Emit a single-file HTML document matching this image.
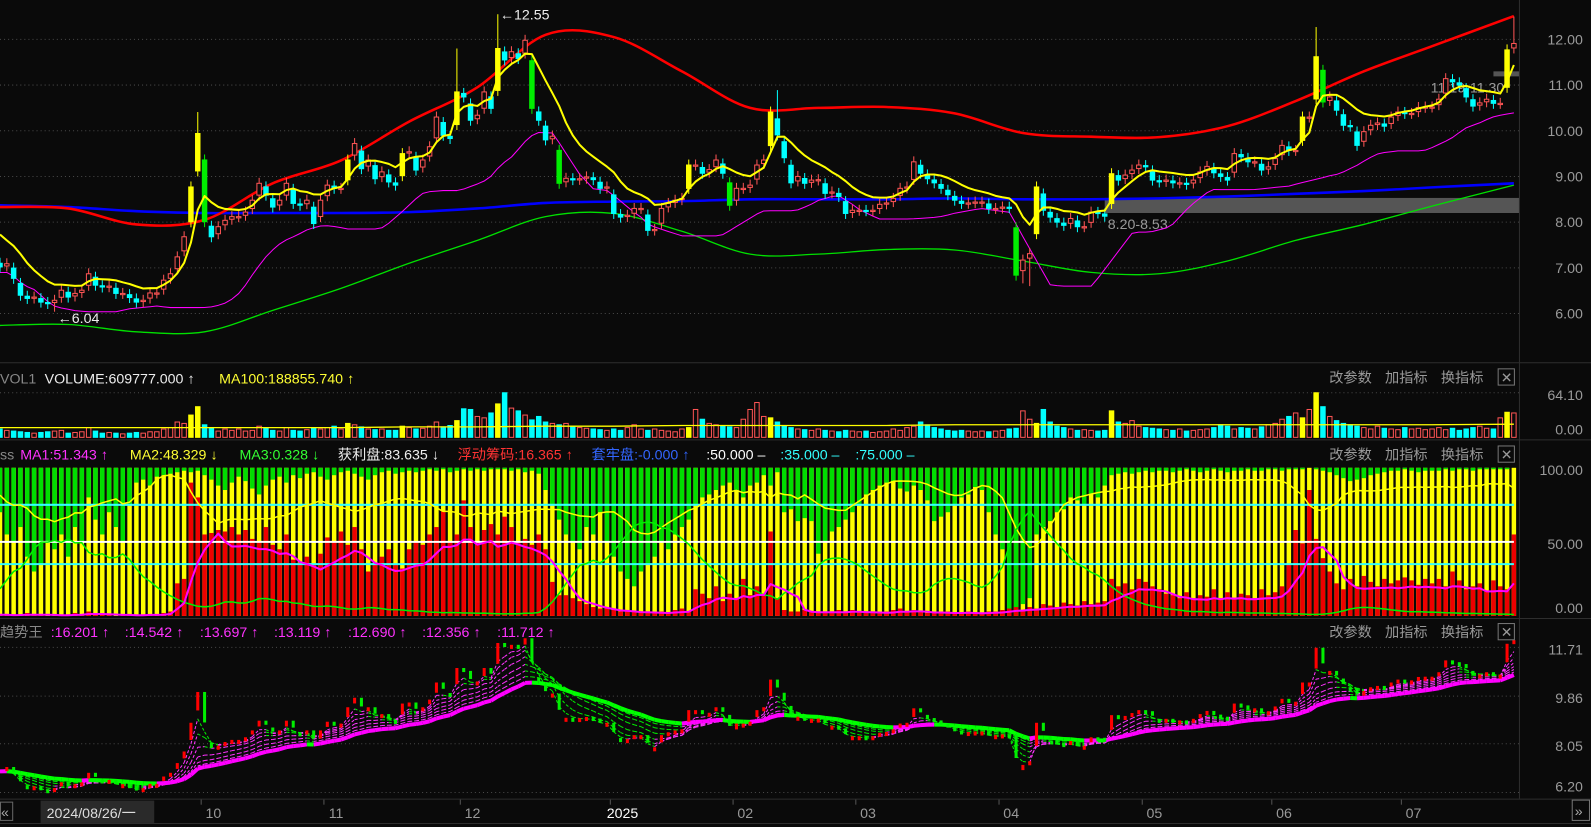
<!DOCTYPE html>
<html><head><meta charset="utf-8"><style>
html,body{margin:0;padding:0;background:#0a0a0a;overflow:hidden}
svg{display:block}
text{font-family:"Liberation Sans","Noto Sans CJK SC",sans-serif;font-size:14px}
</style></head><body>
<svg id="chart" width="1591" height="827" viewBox="0 0 1568 815" preserveAspectRatio="none" xmlns="http://www.w3.org/2000/svg">
<rect x="0" y="0" width="1568" height="815" fill="#0a0a0a"/>
<g stroke="#2e2e2e" stroke-width="1">
<line x1="0" y1="357.5" x2="1568" y2="357.5"/><line x1="0" y1="433.5" x2="1568" y2="433.5"/><line x1="0" y1="609.5" x2="1568" y2="609.5"/><line x1="0" y1="787.5" x2="1568" y2="787.5"/><line x1="0" y1="811.5" x2="1568" y2="811.5"/><line x1="1497.5" y1="0" x2="1497.5" y2="787"/>
</g>
<g id="layer"></g>
<g>
<text x="0" y="378" fill="#888">VOL1</text>
<text x="44" y="378" fill="#eee">VOLUME:609777.000 ↑</text>
<text x="216" y="378" fill="#ffff33">MA100:188855.740 ↑</text>
</g>
<g>
<text x="0" y="453" fill="#888">ss</text>
<text x="20" y="453" fill="#ff33ff">MA1:51.343 ↑</text>
<text x="128" y="453" fill="#ffff33">MA2:48.329 ↓</text>
<text x="236" y="453" fill="#33ff33">MA3:0.328 ↓</text>
<text x="333" y="453" fill="#eee">获利盘:83.635 ↓</text>
<text x="451" y="453" fill="#ff3333">浮动筹码:16.365 ↑</text>
<text x="583" y="453" fill="#3366ff">套牢盘:-0.000 ↑</text>
<text x="696" y="453" fill="#fff">:50.000 –</text>
<text x="769" y="453" fill="#33ffff">:35.000 –</text>
<text x="843" y="453" fill="#33ffff">:75.000 –</text>
</g>
<g fill="#ff33ff">
<text x="0" y="628" fill="#888">趋势王</text>
<text x="50" y="628">:16.201 ↑</text>
<text x="123" y="628">:14.542 ↑</text>
<text x="197" y="628">:13.697 ↑</text>
<text x="270" y="628">:13.119 ↑</text>
<text x="343" y="628">:12.690 ↑</text>
<text x="416" y="628">:12.356 ↑</text>
<text x="490" y="628">:11.712 ↑</text>
</g>
<g fill="#999">
<text x="1310" y="377">改参数</text>
<text x="1365" y="377">加指标</text>
<text x="1420" y="377">换指标</text>
<rect x="1476.5" y="363.5" width="16" height="16" fill="none" stroke="#777"/><text x="1479" y="377">✕</text>
</g>
<g fill="#999">
<text x="1310" y="453">改参数</text>
<text x="1365" y="453">加指标</text>
<text x="1420" y="453">换指标</text>
<rect x="1476.5" y="439.5" width="16" height="16" fill="none" stroke="#777"/><text x="1479" y="453">✕</text>
</g>
<g fill="#999">
<text x="1310" y="628">改参数</text>
<text x="1365" y="628">加指标</text>
<text x="1420" y="628">换指标</text>
<rect x="1476.5" y="614.5" width="16" height="16" fill="none" stroke="#777"/><text x="1479" y="628">✕</text>
</g>
<g>
<rect x="0.5" y="790.5" width="12" height="18" fill="none" stroke="#666"/><text x="1" y="805" fill="#aaa">«</text>
<rect x="40" y="789" width="112" height="22" fill="#2a2a2a"/>
<text x="46" y="806" fill="#ddd">2024/08/26/一</text>
<rect x="1549.5" y="788.5" width="17" height="20" fill="none" stroke="#777"/><text x="1552" y="804" fill="#aaa">»</text>
</g>
</svg>
<script>
const closes=[7.02,7.09,6.77,6.40,6.33,6.36,6.25,6.22,6.29,6.51,
6.36,6.44,6.51,6.87,6.62,6.58,6.60,6.44,6.44,6.35,
6.25,6.29,6.45,6.45,6.73,6.87,7.24,7.68,8.77,9.94,
8.01,7.68,7.90,8.04,8.12,8.12,8.22,8.48,8.85,8.59,
8.33,8.48,8.85,8.41,8.37,8.48,7.97,8.48,8.81,8.74,
8.74,9.36,9.72,9.17,9.36,8.95,9.10,8.88,8.81,9.50,
9.54,9.14,9.36,9.65,10.30,9.90,9.83,10.85,10.74,10.23,
10.34,10.85,10.49,11.80,11.55,11.73,11.58,11.98,10.49,
10.23,9.80,9.88,8.85,8.96,8.93,8.95,8.99,8.93,8.74,
8.77,8.19,8.11,8.15,8.30,8.30,7.82,7.84,8.30,8.41,
8.48,8.52,9.25,9.25,9.07,9.15,9.36,9.07,8.37,8.74,
8.74,8.81,9.25,9.36,10.41,9.91,9.41,8.86,9.00,8.85,
8.92,8.93,8.63,8.66,8.56,8.19,8.26,8.26,8.25,8.26,
8.39,8.42,8.52,8.74,8.77,9.32,9.07,8.95,8.86,8.74,
8.60,8.48,8.41,8.42,8.44,8.44,8.30,8.30,8.33,8.32,
6.84,7.17,7.31,8.77,8.26,8.11,8.00,
7.93,8.08,7.90,7.90,8.22,8.20,8.13,9.06,8.92,9.03,
9.14,9.25,9.21,8.92,8.88,8.92,8.86,8.86,8.83,8.92,
9.10,9.22,9.08,9.00,8.92,9.50,9.43,9.32,9.32,9.14,
9.21,9.39,9.68,9.57,9.57,10.30,10.30,11.62,10.63,10.74,
10.45,10.12,10.10,9.68,9.98,10.12,10.17,10.10,10.30,10.41,
10.38,10.38,10.51,10.52,10.52,10.69,11.14,11.07,11.00,10.74,
10.54,10.61,10.69,10.60,10.60,11.77,11.91];
const extraHigh={29:10.41,67:11.8,73:12.55,114:10.89,193:12.27,222:12.5};
const extraLow={8:6.04,150:6.66,151:6.6};
const volumes=[12,10,9,8,7,6,7,8,9,10,
6,7,8,14,9,6,7,6,5,6,
7,6,8,8,12,14,22,20,32,44,
18,14,9,12,10,12,9,10,16,14,
10,9,14,10,9,11,13,12,14,16,
12,20,18,15,12,11,12,10,10,16,
14,12,13,16,22,15,17,24,41,40,
30,28,35,48,64,42,38,32,25,30,
22,20,18,20,15,14,13,12,11,10,
12,10,14,18,12,10,12,10,9,8,
12,14,40,26,20,18,16,15,14,26,
40,50,30,28,22,16,14,12,11,10,
12,10,9,8,10,9,8,9,7,8,
9,12,10,14,16,22,18,14,12,10,
9,10,9,8,9,8,9,10,12,13,
38,26,20,40,22,16,14,12,10,11,
10,9,10,38,22,20,24,16,14,13,
12,11,10,12,9,10,11,12,14,18,
16,12,14,13,12,15,18,20,26,30,
35,28,40,64,44,30,24,20,18,16,
14,12,16,13,12,11,14,12,13,11,
12,14,11,13,10,12,14,16,13,12,
28,36,35];
const volMA100=[14,14,14,14,14,14,15,15,16,16,17,17,17,17,18,18,18,18,18,18,18,18,19];
const profitPct=[1,1,0,1,2,1,1,0,0,1,
1,2,1,3,1,1,1,0,1,1,
0,1,1,1,2,3,22,25,90,80,
55,56,58,57,60,55,58,52,50,60,
48,45,55,38,36,40,35,42,53,50,
57,48,60,45,30,35,40,45,35,32,
45,50,48,55,60,71,50,55,78,60,
50,58,62,55,67,60,50,52,48,55,
45,23,14,14,12,10,8,6,5,5,
4,3,4,3,2,3,2,3,2,4,
5,3,18,15,12,20,10,15,12,25,
14,20,15,57,12,4,3,3,4,3,
2,3,3,4,3,4,3,2,3,2,
3,4,5,3,4,3,2,2,3,3,
2,2,3,2,2,3,3,4,5,6,
4,6,5,8,7,6,9,8,7,10,
8,9,10,25,20,22,18,25,23,20,
18,15,14,12,16,12,14,13,18,12,
16,12,15,14,12,18,14,16,20,35,
58,49,85,52,39,30,22,18,25,20,
27,23,20,25,22,24,26,24,21,25,
22,25,20,30,24,18,20,22,17,24,
20,18,55];
const trappedPct=[30,45,50,40,60,70,65,50,55,45,
60,40,50,20,35,45,30,40,50,25,
10,8,12,6,5,4,3,2,3,2,
5,8,12,15,10,6,9,14,18,12,
8,6,10,5,7,4,3,6,8,5,
3,2,4,6,8,5,3,2,4,3,
2,3,2,1,2,1,3,2,1,2,
1,2,1,1,1,2,1,3,2,4,
15,25,35,45,50,55,40,45,30,50,
60,70,75,80,70,65,60,50,55,45,
40,35,25,20,18,15,12,10,15,20,
12,10,5,12,3,30,28,36,34,36,
58,50,43,40,35,30,25,18,15,12,
10,9,14,16,12,15,22,36,33,30,
25,20,18,13,15,30,45,55,97,96,
92,88,45,40,36,30,28,20,22,25,
18,20,12,5,4,3,4,3,2,3,
2,2,3,2,1,2,3,2,1,2,
3,2,2,1,2,2,1,1,2,1,
1,1,0,1,2,3,5,7,9,8,
7,5,4,3,2,2,1,2,3,2,
2,2,1,2,1,1,2,1,1,1,
1,1,0];
const bandIdx=[0,10,20,30,40,50,60,70,80,90,100,110,120,130,140,150,160,170,180,190,200,210,222];
const upperBand=[8.33,8.3,7.95,8.05,8.85,9.35,10.2,10.95,12.1,12.05,11.3,10.5,10.5,10.52,10.38,9.95,9.87,9.86,10.1,10.65,11.3,11.85,12.51];
const lowerBand=[5.74,5.76,5.6,5.6,6.07,6.55,7.1,7.6,8.12,8.19,7.8,7.3,7.3,7.4,7.39,7.15,6.9,6.87,7.15,7.6,7.95,8.35,8.81];
const longMA=[8.37,8.33,8.24,8.2,8.2,8.2,8.22,8.3,8.42,8.45,8.46,8.5,8.5,8.5,8.52,8.5,8.5,8.52,8.56,8.62,8.68,8.76,8.85];
const priceTicks=[12,11,10,9,8,7,6];
const volTicks=[64.10,0];
const chipTicks=[100,50,0];
const trendTicks=[11.71,9.86,8.05,6.20];
const monthLabels=['10','11','12','2025','02','03','04','05','06','07'];
const monthIdx=[30,48,68,90,108,126,147,168,187,206];
const zoneLabels=['8.20-8.53','11.19-11.30'];
const zoneLow=[8.20,11.19];
const zoneHigh=[8.53,11.30];
const zoneStart=[162,219];

const NS='http://www.w3.org/2000/svg';
const layer=document.getElementById('layer');
function mk(tag,attrs,parent){const e=document.createElementNS(NS,tag);for(const k in attrs)e.setAttribute(k,attrs[k]);(parent||layer).appendChild(e);return e;}
const N=closes.length, SP=1492/(N-1);
const xOf=i=>i*SP;
const py=p=>38.8+(12-p)*45.03;
const vy=v=>431-v*(44/64.1);
const cy=v=>607-v*1.46;
const ty=p=>638+(11.71-p)*25.95;

const opens=closes.map((c,i)=>i?closes[i-1]+(c-closes[i-1])*0.3:7.1);
const highs=closes.map((c,i)=>extraHigh[i]!==undefined?extraHigh[i]:Math.max(c,opens[i])+0.12);
const lows=closes.map((c,i)=>extraLow[i]!==undefined?extraLow[i]:Math.min(c,opens[i])-0.12);
function sma(a,n){return a.map((v,i)=>{let s=0,k=0;for(let j=Math.max(0,i-n+1);j<=i;j++){s+=a[j];k++;}return s/k;});}
function ema(a,n,seed){let r=[],p=seed;a.forEach(v=>{p=p+(v-p)*2/(n+1);r.push(p);});return r;}
function rmin(a,n){return a.map((v,i)=>Math.min(...a.slice(Math.max(0,i-n+1),i+1)));}

priceTicks.forEach(p=>{
 const g=mk('line',{x1:0,y1:py(p),x2:1497,y2:py(p),stroke:'#4a4a4a','stroke-dasharray':'1 3'});
 
 
 const t=mk('text',{x:1560,y:py(p)+5,fill:'#9a9a9a','text-anchor':'end'});t.textContent=p.toFixed(2);
 
 
});
{const g=mk('line',{x1:0,y1:vy(64.1),x2:1497,y2:vy(64.1),stroke:'#4a4a4a','stroke-dasharray':'1 3'});
 
 }
volTicks.forEach((v,k)=>{const t=mk('text',{x:1560,y:k?424+4:389+5,fill:'#9a9a9a','text-anchor':'end'});t.textContent=v.toFixed(2);
 
 });
chipTicks.forEach(v=>{const t=mk('text',{x:1560,y:Math.min(cy(v)+7,604),fill:'#9a9a9a','text-anchor':'end'});t.textContent=v.toFixed(2);
 
 });
trendTicks.forEach(v=>{const g=mk('line',{x1:0,y1:ty(v),x2:1497,y2:ty(v),stroke:'#4a4a4a','stroke-dasharray':'1 3'});
 
 
 const t=mk('text',{x:1560,y:ty(v)+(v<7?-1:7),fill:'#9a9a9a','text-anchor':'end'});t.textContent=v.toFixed(2);
 
 });

zoneLabels.forEach((lab,k)=>{
 const r=mk('rect',{x:xOf(zoneStart[k]),y:py(zoneHigh[k]),width:1497-xOf(zoneStart[k]),height:py(zoneLow[k])-py(zoneHigh[k]),fill:'#555'});
 
 
 const t=mk('text',{x:k?1410:xOf(zoneStart[k])+3,y:py(zoneLow[k])+16,fill:'#999'});t.textContent=lab;
 
 
});

function poly(vals,idx,stroke,w,name,clip){
 const pts=vals.map((v,k)=>xOf(idx?idx[k]:k).toFixed(1)+','+clip(v).toFixed(1)).join(' ');
 const p=mk('polyline',{points:pts,fill:'none',stroke:stroke,'stroke-width':w,'stroke-linejoin':'round'});
 
 
 return p;
}
function smooth(vals,idx,stroke,w,name,clip){
 const P=vals.map((v,k)=>[xOf(idx[k]),clip(v)]);
 let d='M'+P[0][0]+','+P[0][1];
 for(let i=0;i<P.length-1;i++){
  const p0=P[Math.max(0,i-1)],p1=P[i],p2=P[i+1],p3=P[Math.min(P.length-1,i+2)];
  const c1=[p1[0]+(p2[0]-p0[0])/6,p1[1]+(p2[1]-p0[1])/6],c2=[p2[0]-(p3[0]-p1[0])/6,p2[1]-(p3[1]-p1[1])/6];
  d+=' C'+c1.join(',')+' '+c2.join(',')+' '+p2.join(',');
 }
 const p=mk('path',{d:d,fill:'none',stroke:stroke,'stroke-width':w});
 
 
 return p;
}
smooth(lowerBand,bandIdx,'#00e000',1.3,'lower-band-line',py);
smooth(longMA,bandIdx,'#0000ff',2.5,'long-ma-line',py);
smooth(upperBand,bandIdx,'#ff0000',2.5,'upper-band-line',py);
const magLine=sma(rmin(lows,10),6);
poly(magLine,null,'#ff00ff',1,'support-line',py);

const bw=4.4;
closes.forEach((c,i)=>{
 const o=opens[i],x=xOf(i),prev=i?closes[i-1]:o,chg=(c-prev)/prev;
 let col,fill;
 if(chg>=0.07){col='#ffff00';fill='#ffff00';}
 else if(chg<=-0.07){col='#00ee00';fill='#00ee00';}
 else if(c>=o){col='#ff5555';fill='#0a0a0a';}
 else{col='#00ffff';fill='#00ffff';}
 const w=mk('line',{x1:x,y1:py(highs[i]),x2:x,y2:py(lows[i]),stroke:col,'stroke-width':1});
 
 
 const top=py(Math.max(o,c)),h=Math.max(1.2,py(Math.min(o,c))-top);
 const b=mk('rect',{x:x-bw/2,y:top,width:bw,height:h,fill:fill,stroke:col,'stroke-width':1});
 
 
});
const yellowLine=ema(highs,7,7.9);
poly(yellowLine,null,'#ffff00',2,'short-ma-line',py);

{let hi=0,lo=0;highs.forEach((h,i)=>{if(h>highs[hi])hi=i;});lows.forEach((l,i)=>{if(l<lows[lo])lo=i;});
 const t1=mk('text',{x:xOf(hi)+2,y:py(highs[hi])+5,fill:'#eee'});t1.textContent='←'+highs[hi].toFixed(2);
 
 
 const t2=mk('text',{x:xOf(lo)+3,y:py(lows[lo])+11,fill:'#eee'});t2.textContent='←'+lows[lo].toFixed(2);
 
 }

volumes.forEach((v,i)=>{
 const o=opens[i],c=closes[i],prev=i?closes[i-1]:o,chg=(c-prev)/prev,x=xOf(i);
 let fill,stroke;
 if(chg>=0.07){fill='#ffff00';stroke='#ffff00';}
 else if(c>=o){fill='none';stroke='#ff5555';}
 else{fill='#00ffff';stroke='#00ffff';}
 const r=mk('rect',{x:x-bw/2,y:vy(v),width:bw,height:431-vy(v),fill:fill,stroke:stroke,'stroke-width':1});
 
 
});
poly(volMA100,bandIdx,'#ffff00',1.3,'volume-ma100-line',vy);

profitPct.forEach((r,i)=>{
 const g=trappedPct[i],x=xOf(i),w=4.4;
 const yb=mk('rect',{x:x-w/2,y:cy(100),width:w,height:146,fill:'#ffff00'});
 
 
 const gb=mk('rect',{x:x-w/2,y:cy(100),width:w,height:g*1.46,fill:'#00dd00'});
 
 
 const rb=mk('rect',{x:x-w/2,y:cy(r),width:w,height:r*1.46,fill:'#ee0000'});
 
 
});
[[75,'#33ffff'],[50,'#ffffff'],[35,'#33ffff']].forEach(([v,c])=>{
 const l=mk('line',{x1:0,y1:cy(v),x2:1492,y2:cy(v),stroke:c,'stroke-width':2});
 
 
});
const chipYellow=sma(profitPct.map((r,i)=>100-trappedPct[i]*0.6-r*0.5),5);
const chipMag=sma(profitPct,5).map(v=>v*0.82);
const chipGreen=ema(trappedPct,8,15);
poly(chipYellow,null,'#ffff00',1.5,'chip-ma2-line',cy);
poly(chipGreen,null,'#00ee00',1.5,'chip-ma3-line',cy);
poly(chipMag,null,'#ff00ff',2,'chip-ma1-line',cy);

const trendMain=ema(closes,25,7.0);
const fanPeriods=[3,5,8,12,16,20];
fanPeriods.forEach(n=>{
 const f=ema(closes,n,7.0);
 for(let i=1;i<N;i++){
  const l=mk('line',{x1:xOf(i-1),y1:ty(f[i-1]),x2:xOf(i),y2:ty(f[i]),stroke:f[i]>=f[i-1]?'#ff33ff':'#00ee00','stroke-width':1,'stroke-dasharray':'3 2'});
  
  
 }
});
for(let i=1;i<N;i++){
 const l=mk('line',{x1:xOf(i-1),y1:ty(trendMain[i-1]),x2:xOf(i),y2:ty(trendMain[i]),stroke:trendMain[i]>=trendMain[i-1]?'#ff00ff':'#00ff00','stroke-width':4});
 
 
}
closes.forEach((c,i)=>{
 if(i===0)return;
 const up=c>=closes[i-1];
 const m=mk('rect',{x:xOf(i)-1.5,y:ty(Math.max(c,closes[i-1]))-2,width:3,height:Math.max(4,Math.abs(ty(c)-ty(closes[i-1]))*0.6),fill:up?'#ff0000':'#00ee00'});
 
 
});

monthLabels.forEach((lab,k)=>{
 const x=xOf(monthIdx[k])-SP/2;
 const tk=mk('line',{x1:x,y1:788,x2:x,y2:793,stroke:'#555'});
 
 
 const t=mk('text',{x:x+12,y:806,fill:lab==='2025'?'#fff':'#999','text-anchor':'middle'});t.textContent=lab;
 
 
});
</script>
</body></html>
